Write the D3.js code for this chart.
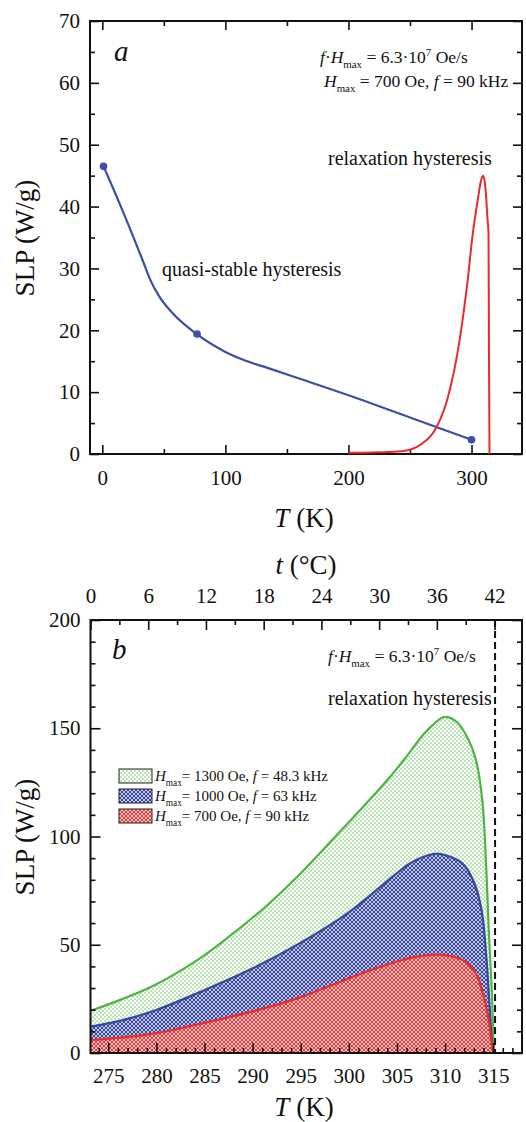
<!DOCTYPE html>
<html><head><meta charset="utf-8">
<script src="https://cdn.jsdelivr.net/npm/d3@7"></script>
<style>
body{margin:0;background:#fff}
svg{display:block}
text{font-family:"Liberation Serif","Times New Roman",serif;fill:#111;white-space:pre}
</style>
</head><body>
<svg id="c" width="526" height="1122"></svg>
<script>
// ---------- Panel a data ----------
const quasiT   = [1, 10, 19.5, 28, 33, 38.4, 46.5, 57.4, 76.5, 100, 116, 133, 160, 200, 250, 300];
const quasiSLP = [46.5, 42.4, 37.9, 33.7, 31.2, 28.4, 25.4, 22.7, 19.4, 16.5, 15.1, 14.0, 12.2, 9.5, 5.9, 2.3];
const quasiMarkT   = [1, 77, 300];
const quasiMarkSLP = [46.5, 19.4, 2.3];
const relaxT   = [200, 220, 240, 250, 260, 270, 280, 290, 296.8, 301, 305, 307.5, 309.2, 310.5, 311.5, 313, 313.8, 314.2, 314.6];
const relaxSLP = [0.2, 0.25, 0.4, 0.7, 1.7, 3.8, 8.6, 18, 28, 35.6, 41, 44, 45, 44.3, 42.5, 38, 35.6, 15, 0];
const aTicksX = [0, 100, 200, 300];
const aTicksY = [0, 10, 20, 30, 40, 50, 60, 70];

// ---------- Panel b data ----------
const greenT   = [273.15, 276.5, 280, 284.45, 287.9, 291.4, 294.83, 299.33, 301.76, 304.18, 305.91, 307.64, 308.68, 309.89, 311.2, 312.3, 313.18, 313.87, 314.28, 314.56, 314.9, 315.05];
const greenSLP = [19.5, 25.0, 31.8, 43.5, 55, 67.8, 82.2, 103.5, 115, 127, 136.5, 146.5, 151.3, 155.2, 153, 146, 136, 116.9, 86, 55.3, 24.5, 0];
const blueT    = [273.15, 276.5, 280, 284.45, 289.64, 294.83, 300, 303.5, 306.3, 308, 309.4, 311.8, 313.0, 313.8, 314.3, 314.6, 314.9, 315.05];
const blueSLP  = [12.2, 15.2, 19.9, 28, 38.3, 50.5, 65, 77.5, 87.5, 91, 92, 87.6, 79, 66, 44, 24, 4, 0];
const redT     = [273.15, 276.5, 280, 284.45, 290, 294.5, 298.3, 301.8, 305.2, 307.2, 309.4, 311.8, 313.2, 313.9, 314.55, 314.9, 315.05];
const redSLP   = [6.0, 7.2, 9.2, 13.4, 19.2, 25, 31.5, 37.5, 42.5, 44.6, 45.4, 43, 36.8, 28, 15, 3, 0];
const bTicksX  = [275, 280, 285, 290, 295, 300, 305, 310, 315];
const bTicksC  = [0, 6, 12, 18, 24, 30, 36, 42];
const bTicksY  = [0, 50, 100, 150, 200];
const legendLabels = [["1300", "48.3"], ["1000", "63"], ["700", "90"]];
const seriesNames = ["green", "blue", "red"];

const COL = {green: "#4fb443", blue: "#33499f", red: "#ec2a2c", quasi: "#3a4fa5"};
const FONT = '"Liberation Serif","Times New Roman",serif';

const svg = d3.select("#c");
const defs = svg.append("defs");

// patterns
const pg = defs.append("pattern").attr("id", "p-green").attr("patternUnits", "userSpaceOnUse").attr("width", 4).attr("height", 4);
pg.append("circle").attr("cx", 1).attr("cy", 1).attr("r", 0.75).attr("fill", "#58bb48");
pg.append("circle").attr("cx", 3).attr("cy", 3).attr("r", 0.75).attr("fill", "#58bb48");
function hatch(id, c) {
  const p = defs.append("pattern").attr("id", id).attr("patternUnits", "userSpaceOnUse").attr("width", 4).attr("height", 4);
  p.append("rect").attr("width", 4).attr("height", 4).attr("fill", c);
  [[0,0],[4,0],[0,4],[4,4],[2,2]].forEach(([x,y]) =>
    p.append("circle").attr("cx", x).attr("cy", y).attr("r", 0.95).attr("fill", "#fff"));
}
hatch("p-blue", "#36469f");
hatch("p-red", "#e8383a");

function rich(g, x, y, size, parts, anchor) {
  const t = g.append("text").attr("x", x).attr("y", y).attr("font-size", size).attr("text-anchor", anchor || "start");
  let shift = 0;
  parts.forEach(([s, st]) => {
    const sp = t.append("tspan").text(s);
    let target = 0;
    if (st === "sub") target = size * 0.3;
    if (st === "sup") target = -size * 0.42;
    sp.attr("dy", target - shift); shift = target;
    if (st === "sub" || st === "sup") sp.attr("font-size", size * 0.62);
    if (st === "i") sp.attr("font-style", "italic");
  });
  return t;
}

function styleAxis(s, fs) {
  s.attr("font-family", FONT).attr("font-size", fs || 21);
  s.select(".domain").remove();
  s.selectAll("line").attr("stroke", "#111").attr("stroke-width", 1.6);
  s.selectAll("text").attr("fill", "#111");
}
function axis(g, gen, tr) {
  g.append("g").attr("transform", tr).call(gen).call(s => styleAxis(s));
}

// =============== Panel a ===============
const ga = svg.append("g");
const xA = d3.scaleLinear().domain([-10, 341]).range([90, 522]);
const yA = d3.scaleLinear().domain([0, 70]).range([454, 21]);
const minorAx = [50, 150, 250];
const minorAy = d3.range(5, 70, 10);

axis(ga, d3.axisBottom(xA).tickValues(aTicksX).tickSize(-9).tickPadding(16), `translate(0,${yA(0)})`);
axis(ga, d3.axisBottom(xA).tickValues(minorAx).tickSize(-5).tickFormat(""), `translate(0,${yA(0)})`);
axis(ga, d3.axisTop(xA).tickValues(aTicksX).tickSize(-9).tickFormat(""), `translate(0,${yA(70)})`);
axis(ga, d3.axisTop(xA).tickValues(minorAx).tickSize(-5).tickFormat(""), `translate(0,${yA(70)})`);
axis(ga, d3.axisLeft(yA).tickValues(aTicksY).tickSize(-9).tickPadding(10), `translate(${xA.range()[0]},0)`);
axis(ga, d3.axisLeft(yA).tickValues(minorAy).tickSize(-5).tickFormat(""), `translate(${xA.range()[0]},0)`);
axis(ga, d3.axisRight(yA).tickValues(aTicksY).tickSize(-9).tickFormat(""), `translate(${xA.range()[1]},0)`);
axis(ga, d3.axisRight(yA).tickValues(minorAy).tickSize(-5).tickFormat(""), `translate(${xA.range()[1]},0)`);

ga.append("rect").attr("x", xA.range()[0]).attr("y", yA(70))
  .attr("width", xA.range()[1] - xA.range()[0]).attr("height", yA(0) - yA(70))
  .attr("fill", "none").attr("stroke", "#111").attr("stroke-width", 2);

const lineQ = d3.line().x(d => xA(d[0])).y(d => yA(d[1])).curve(d3.curveMonotoneX);
const lineR = d3.line().x(d => xA(d[0])).y(d => yA(d[1])).curve(d3.curveMonotoneX);
ga.append("path").attr("d", lineQ(quasiT.map((t, i) => [t, quasiSLP[i]])))
  .attr("fill", "none").attr("stroke", COL.quasi).attr("stroke-width", 2.2);
ga.append("path").attr("d", lineR(relaxT.map((t, i) => [t, relaxSLP[i]])))
  .attr("fill", "none").attr("stroke", COL.red).attr("stroke-width", 2);
ga.selectAll("circle.m").data(quasiMarkT.map((t, i) => [t, quasiMarkSLP[i]])).join("circle")
  .attr("cx", d => xA(d[0])).attr("cy", d => yA(d[1])).attr("r", 3.8).attr("fill", COL.quasi);

ga.append("text").attr("x", 114).attr("y", 61).attr("font-size", 29).attr("font-style", "italic").text("a");
rich(ga, 320, 63, 17.5, [["f","i"],["·",""],["H","i"],["max","sub"],[" = 6.3·10",""],["7","sup"],[" Oe/s",""]]);
rich(ga, 324, 87, 17.5, [["H","i"],["max","sub"],[" = 700 Oe, ",""],["f","i"],[" = 90 kHz",""]]);
ga.append("text").attr("x", 328).attr("y", 165).attr("font-size", 20).text("relaxation hysteresis");
ga.append("text").attr("x", 162).attr("y", 276).attr("font-size", 20).text("quasi-stable hysteresis");

ga.append("text").attr("transform", "translate(34,238) rotate(-90)").attr("text-anchor", "middle")
  .attr("font-size", 27).text("SLP (W/g)");
rich(ga, 304, 527, 27, [["T","i"],[" (K)",""]], "middle");

// =============== Panel b ===============
const gb = svg.append("g");
const xB = d3.scaleLinear().domain([273.15, 318]).range([90.5, 522]);
const xC = d3.scaleLinear().domain([0, 318 - 273.15]).range([90.5, 522]);
const yB = d3.scaleLinear().domain([0, 200]).range([1053, 620]);
const minorBx = d3.range(274, 318, 1).filter(v => v % 5 !== 0);
const minorBc = d3.range(3, 42, 6);
const minorBy = d3.range(10, 200, 10).filter(v => v % 50 !== 0);

const curveB = d3.curveCatmullRom.alpha(0.5);
const area = d3.area().x(d => xB(d[0])).y0(yB(0)).y1(d => yB(d[1])).curve(curveB);
const lineB = d3.line().x(d => xB(d[0])).y(d => yB(d[1])).curve(curveB);
const series = {
  green: greenT.map((t, i) => [t, greenSLP[i]]),
  blue: blueT.map((t, i) => [t, blueSLP[i]]),
  red: redT.map((t, i) => [t, redSLP[i]])
};
seriesNames.forEach(n => gb.append("path").attr("d", area(series[n])).attr("fill", `url(#p-${n})`));
seriesNames.forEach(n => gb.append("path").attr("d", lineB(series[n])).attr("fill", "none")
  .attr("stroke", COL[n]).attr("stroke-width", 2.2));

// dashed line at 42 °C
gb.append("line").attr("x1", xB(315.2)).attr("x2", xB(315.2)).attr("y1", yB(200)).attr("y2", yB(0))
  .attr("stroke", "#111").attr("stroke-width", 2).attr("stroke-dasharray", "7,4");

axis(gb, d3.axisBottom(xB).tickValues(bTicksX).tickSize(-10).tickPadding(15), `translate(0,${yB(0)})`);
axis(gb, d3.axisBottom(xB).tickValues(minorBx).tickSize(-5).tickFormat(""), `translate(0,${yB(0)})`);
axis(gb, d3.axisTop(xC).tickValues(bTicksC).tickSize(-10).tickPadding(17), `translate(0,${yB(200)})`);
axis(gb, d3.axisTop(xC).tickValues(minorBc).tickSize(-5).tickFormat(""), `translate(0,${yB(200)})`);
axis(gb, d3.axisLeft(yB).tickValues(bTicksY).tickSize(-10).tickPadding(10), `translate(${xB.range()[0]},0)`);
axis(gb, d3.axisLeft(yB).tickValues(minorBy).tickSize(-5).tickFormat(""), `translate(${xB.range()[0]},0)`);
axis(gb, d3.axisRight(yB).tickValues(bTicksY).tickSize(-10).tickFormat(""), `translate(${xB.range()[1]},0)`);
axis(gb, d3.axisRight(yB).tickValues(minorBy).tickSize(-5).tickFormat(""), `translate(${xB.range()[1]},0)`);

gb.append("rect").attr("x", xB.range()[0]).attr("y", yB(200))
  .attr("width", xB.range()[1] - xB.range()[0]).attr("height", yB(0) - yB(200))
  .attr("fill", "none").attr("stroke", "#111").attr("stroke-width", 2);

gb.append("text").attr("x", 112).attr("y", 659).attr("font-size", 29).attr("font-style", "italic").text("b");
rich(gb, 328, 662, 17.5, [["f","i"],["·",""],["H","i"],["max","sub"],[" = 6.3·10",""],["7","sup"],[" Oe/s",""]]);
gb.append("text").attr("x", 328).attr("y", 705).attr("font-size", 20).text("relaxation hysteresis");

// legend
seriesNames.forEach((n, i) => {
  const y = 769 + i * 20;
  gb.append("rect").attr("x", 119).attr("y", y).attr("width", 33).attr("height", 14)
    .attr("fill", `url(#p-${n})`).attr("stroke", "#222").attr("stroke-width", 1);
  rich(gb, 155, y + 12, 15, [["H","i"],["max","sub"],[`= ${legendLabels[i][0]} Oe, `,""],["f","i"],[` = ${legendLabels[i][1]} kHz`,""]]);
});

gb.append("text").attr("transform", "translate(34,837) rotate(-90)").attr("text-anchor", "middle")
  .attr("font-size", 27).text("SLP (W/g)");
rich(gb, 304, 1116, 27, [["T","i"],[" (K)",""]], "middle");
rich(gb, 306, 574, 27, [["t","i"],[" (°C)",""]], "middle");
</script>
</body></html>
